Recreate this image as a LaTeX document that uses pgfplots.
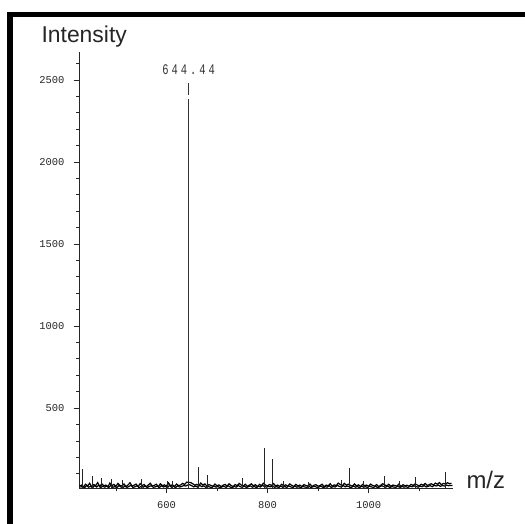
\documentclass[border=0pt]{standalone}
\usepackage{fontspec}
\setmainfont{Liberation Sans}
\setmonofont{Liberation Mono}
\usepackage{pgfplots}
\pgfplotsset{compat=1.18}

\begin{document}
\begin{tikzpicture}
\useasboundingbox (0,0) rectangle (525bp,524bp);
% scanned frame
\fill[black] (7.3bp,0) rectangle (13.3bp,512.3bp);
\fill[black] (7.3bp,506.7bp) rectangle (525bp,512.3bp);

\begin{axis}[
  at={(79bp,36bp)}, anchor=south west,
  scale only axis,
  width=374bp, height=436bp,
  xmin=427, xmax=1167,
  ymin=12, ymax=2670,
  axis lines=left,
  axis line style={-, line width=0.7pt, black!85},
  tick align=outside,
  major tick length=5bp,
  minor tick length=3bp,
  tick style={black!85, line width=0.5pt},
  xtick={600,800,1000},
  minor xtick={500,700,900,1100},
  ytick={500,1000,1500,2000,2500},
  minor ytick={100,200,300,400,600,700,800,900,1100,1200,1300,1400,1600,1700,1800,1900,2100,2200,2300,2400,2600},
  /pgf/number format/assume math mode=true,
  /pgf/number format/1000 sep={},
  ticklabel style={font=\fontsize{10.5}{11}\ttfamily, text=black!85},
  xticklabel style={yshift=-5bp},
  yticklabel style={xshift=-6bp},
  clip=true,
]
% baseline noise (upper envelope)
\addplot[black, line width=1.2pt] coordinates {
(428,22) (432,30) (436,19) (440,35) (444,24) (448,41) (452,20) (456,33) (460,27) (464,45)
(468,21) (472,38) (476,25) (480,30) (484,19) (488,42) (492,26) (496,34) (500,22) (504,40)
(508,28) (512,24) (516,37) (520,20) (524,31) (528,44) (532,23) (536,29) (540,36) (544,21)
(548,39) (552,27) (556,33) (560,19) (564,30) (568,41) (572,24) (576,28) (580,35) (584,20)
(588,38) (592,26) (596,31) (600,23) (604,43) (608,25) (612,32) (616,21) (620,36) (624,27)
(628,30) (632,40) (636,33) (640,48) (648,45) (652,38) (656,29) (660,34) (664,26) (668,42)
(672,30) (676,37) (680,24) (684,33) (688,28) (692,22) (696,36) (700,25) (704,31) (708,20)
(712,29) (716,34) (720,23) (724,38) (728,27) (732,21) (736,33) (740,26) (744,40) (748,30)
(752,24) (756,35) (760,22) (764,29) (768,37) (772,25) (776,32) (780,20) (784,34) (788,27)
(792,41) (796,30) (800,25) (804,33) (808,28) (812,39) (816,24) (820,30) (824,21) (828,35)
(832,26) (836,31) (840,23) (844,37) (848,28) (852,22) (856,34) (860,25) (864,30) (868,20)
(872,33) (876,27) (880,24) (884,36) (888,21) (892,29) (896,32) (900,23) (904,27) (908,35)
(912,20) (916,30) (920,25) (924,38) (928,22) (932,31) (936,27) (940,42) (944,33) (948,26)
(952,40) (956,29) (960,35) (964,28) (968,23) (972,37) (976,25) (980,31) (984,21) (988,34)
(992,26) (996,30) (1000,22) (1004,36) (1008,27) (1012,24) (1016,33) (1020,20) (1024,29) (1028,38)
(1032,31) (1036,25) (1040,35) (1044,22) (1048,30) (1052,27) (1056,24) (1060,36) (1064,21) (1068,32)
(1072,26) (1076,29) (1080,23) (1084,34) (1088,28) (1092,37) (1096,31) (1100,25) (1104,35) (1108,29)
(1112,40) (1116,27) (1120,33) (1124,38) (1128,30) (1132,42) (1136,35) (1140,45) (1144,32) (1148,40)
(1152,36) (1156,44) (1160,38) (1164,41)
};
% baseline noise (lower, interleaved)
\addplot[black, line width=1.2pt] coordinates {
(430,16) (434,24) (438,14) (442,27) (446,17) (450,22) (454,15) (458,26) (462,18) (466,29)
(470,14) (474,23) (478,17) (482,25) (486,15) (490,28) (494,16) (498,21) (502,14) (506,27)
(510,18) (514,15) (518,24) (522,16) (526,22) (530,28) (534,15) (538,20) (542,26) (546,14)
(550,23) (554,17) (558,25) (562,15) (566,21) (570,27) (574,16) (578,19) (582,24) (586,14)
(590,26) (594,18) (598,22) (602,15) (606,28) (610,17) (614,23) (618,14) (622,25) (626,18)
(630,21) (634,27) (638,24) (642,30) (646,32) (650,26) (654,19) (658,24) (662,17) (666,28)
(670,20) (674,25) (678,16) (682,22) (686,18) (690,15) (694,24) (698,17) (702,21) (706,14)
(710,19) (714,23) (718,15) (722,26) (726,18) (730,14) (734,22) (738,17) (742,27) (746,20)
(750,16) (754,24) (758,15) (762,20) (766,25) (770,17) (774,22) (778,14) (782,23) (786,18)
(790,28) (794,21) (798,17) (802,22) (806,19) (810,26) (814,16) (818,21) (822,14) (826,24)
(830,17) (834,21) (838,15) (842,25) (846,19) (850,15) (854,23) (858,17) (862,20) (866,14)
(870,22) (874,18) (878,16) (882,24) (886,14) (890,20) (894,22) (898,15) (902,18) (906,24)
(910,14) (914,20) (918,17) (922,26) (926,15) (930,21) (934,18) (938,28) (942,22) (946,17)
(950,27) (954,19) (958,24) (962,19) (966,15) (970,25) (974,17) (978,21) (982,14) (986,23)
(990,17) (994,20) (998,15) (1002,24) (1006,18) (1010,16) (1014,22) (1018,14) (1022,19) (1026,26)
(1030,21) (1034,17) (1038,24) (1042,15) (1046,20) (1050,18) (1054,16) (1058,24) (1062,14) (1066,22)
(1070,17) (1074,20) (1078,15) (1082,23) (1086,19) (1090,25) (1094,21) (1098,17) (1102,24) (1106,20)
(1110,27) (1114,18) (1118,22) (1122,26) (1126,20) (1130,28) (1134,24) (1138,30) (1142,22) (1146,27)
(1150,24) (1154,30) (1158,26) (1162,28) (1166,27)
};
% small peaks
\addplot[ycomb, black!85, line width=0.8pt] coordinates {
(434,128) (453,85) (471,73) (492,68) (513,60) (551,67) (601,57) (611,52)
(664,140) (681,90) (750,70) (794,254) (810,189) (831,55) (880,50) (947,62)
(963,136) (990,52) (1032,85) (1060,55) (1093,80) (1151,112)
};
% base peak
\addplot[ycomb, black!80, line width=1.6pt] coordinates {(644,2385)};
\draw[black!80, line width=0.5pt] (axis cs:644,2410) -- (axis cs:644,2482);
\node[font=\fontsize{10.5}{12}\ttfamily, text=black!80, anchor=base]
  at (axis cs:644,2530) {\scalebox{1}[1.4]{6\hspace{3bp}4\hspace{3bp}4\hspace{3bp}.\hspace{3bp}4\hspace{3bp}4}};
\end{axis}

\node[anchor=base west, font=\fontsize{23}{25}\selectfont, text=black!85] at (38bp,481bp) {Intensity};
\node[anchor=base west, font=\fontsize{24}{26}\selectfont, text=black!85] at (463bp,36bp) {m/z};
\end{tikzpicture}
\end{document}
